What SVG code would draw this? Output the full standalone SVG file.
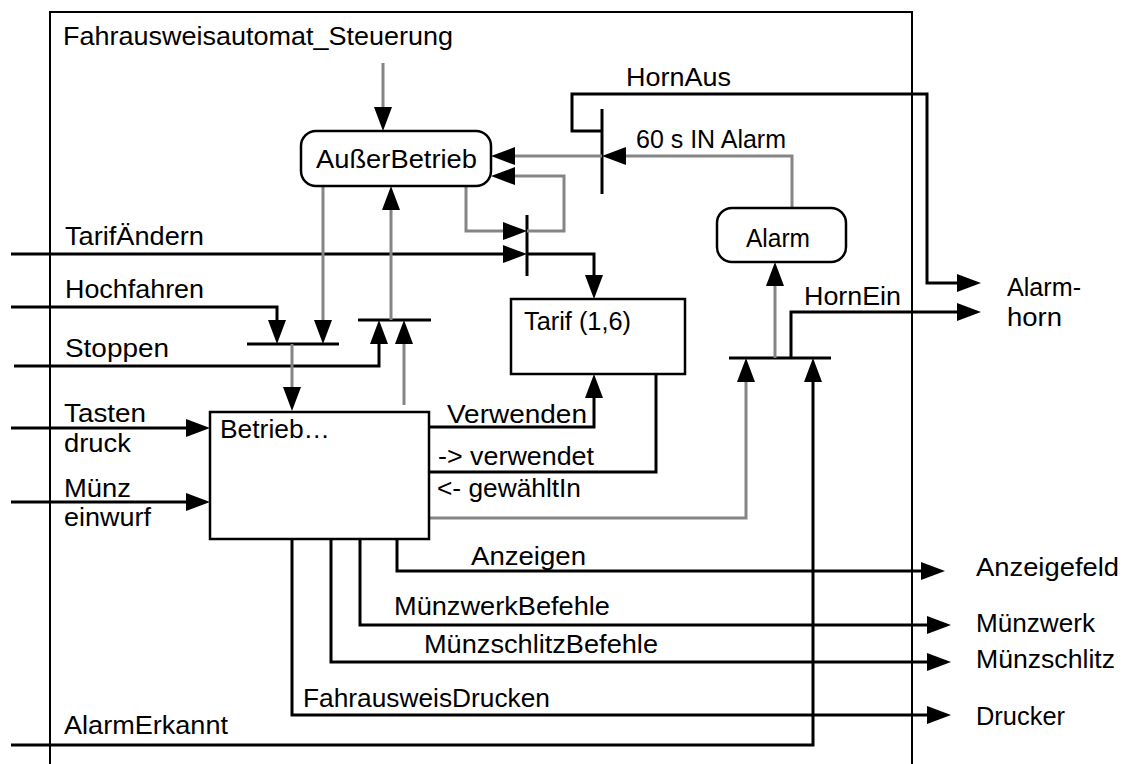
<svg xmlns="http://www.w3.org/2000/svg" width="1122" height="764" viewBox="0 0 1122 764">
<style>
text{font-family:"Liberation Sans",Arial,sans-serif;font-size:25px;fill:#000}
.k{fill:none;stroke:#000;stroke-width:3}
.g{fill:none;stroke:#858585;stroke-width:3}
.bar{fill:none;stroke:#000;stroke-width:3}
.box{fill:#fff;stroke:#000;stroke-width:2.5}
.frame{fill:none;stroke:#000;stroke-width:2}
</style>
<defs>
<marker id="ah" markerUnits="userSpaceOnUse" markerWidth="26" markerHeight="20" refX="0" refY="9" orient="auto" overflow="visible">
<path d="M0,0 L24,9 L0,18 z" fill="#000"/>
</marker>
</defs>
<rect width="1122" height="764" fill="#fff"/>
<g id="frame">
<path class="frame" d="M50,764 V12 H912 V764"/>
<text x="63" y="45" textLength="390" lengthAdjust="spacingAndGlyphs">Fahrausweisautomat_Steuerung</text>
</g>
<g id="connectors">
<path class="bar" d="M527,215 V276"/>
<path class="bar" d="M247,344 H339"/>
<path class="bar" d="M358,320 H431"/>
<path class="bar" d="M602,109 V194"/>
<path class="bar" d="M729,358 H831"/>
<path class="k" d="M11,254 H503" marker-end="url(#ah)"/>
<path class="k" d="M527,254 H594 V275" marker-end="url(#ah)"/>
<path class="k" d="M11,307 H277 V320" marker-end="url(#ah)"/>
<path class="k" d="M14,366 H379 V344" marker-end="url(#ah)"/>
<path class="k" d="M11,428 H186" marker-end="url(#ah)"/>
<path class="k" d="M11,502 H186" marker-end="url(#ah)"/>
<path class="k" d="M429,427 H594 V398" marker-end="url(#ah)"/>
<path class="k" d="M656,374 V472 H429"/>
<path class="k" d="M602,131 H572 V94 H927 V283 H957" marker-end="url(#ah)"/>
<path class="k" d="M791,358 V312 H957" marker-end="url(#ah)"/>
<path class="k" d="M11,745 H813 V382" marker-end="url(#ah)"/>
<path class="k" d="M397,539 V571 H921" marker-end="url(#ah)"/>
<path class="k" d="M360,539 V625 H927" marker-end="url(#ah)"/>
<path class="k" d="M331,539 V662 H927" marker-end="url(#ah)"/>
<path class="k" d="M292,539 V715 H927" marker-end="url(#ah)"/>
<path class="g" d="M383,63 V107" marker-end="url(#ah)"/>
<path class="g" d="M323,186 V320" marker-end="url(#ah)"/>
<path class="g" d="M391,320 V210" marker-end="url(#ah)"/>
<path class="g" d="M292,344 V387" marker-end="url(#ah)"/>
<path class="g" d="M404,405 V344" marker-end="url(#ah)"/>
<path class="g" d="M466,186 V231 H503" marker-end="url(#ah)"/>
<path class="g" d="M527,231 H564 V176 H515" marker-end="url(#ah)"/>
<path class="g" d="M792,208 V156 H626" marker-end="url(#ah)"/>
<path class="g" d="M602,156 H515" marker-end="url(#ah)"/>
<path class="g" d="M775,358 V286" marker-end="url(#ah)"/>
<path class="g" d="M429,518 H746 V382" marker-end="url(#ah)"/>
<text x="626" y="86" textLength="105" lengthAdjust="spacingAndGlyphs">HornAus</text>
<text x="636" y="148" textLength="150" lengthAdjust="spacingAndGlyphs">60 s IN Alarm</text>
<text x="65" y="245" textLength="139" lengthAdjust="spacingAndGlyphs">TarifÄndern</text>
<text x="65" y="298" textLength="139" lengthAdjust="spacingAndGlyphs">Hochfahren</text>
<text x="65" y="357" textLength="104" lengthAdjust="spacingAndGlyphs">Stoppen</text>
<text x="804" y="305" textLength="97" lengthAdjust="spacingAndGlyphs">HornEin</text>
<text x="1007" y="296" textLength="74" lengthAdjust="spacingAndGlyphs">Alarm-</text>
<text x="1007" y="326" textLength="55" lengthAdjust="spacingAndGlyphs">horn</text>
<text x="64" y="422" textLength="82" lengthAdjust="spacingAndGlyphs">Tasten</text>
<text x="64" y="452" textLength="67" lengthAdjust="spacingAndGlyphs">druck</text>
<text x="64" y="497" textLength="67" lengthAdjust="spacingAndGlyphs">Münz</text>
<text x="64" y="526" textLength="87" lengthAdjust="spacingAndGlyphs">einwurf</text>
<text x="447" y="423" textLength="140" lengthAdjust="spacingAndGlyphs">Verwenden</text>
<text x="438" y="465" textLength="156" lengthAdjust="spacingAndGlyphs">-&gt; verwendet</text>
<text x="437" y="497" textLength="144" lengthAdjust="spacingAndGlyphs">&lt;- gewähltIn</text>
<text x="471" y="565" textLength="115" lengthAdjust="spacingAndGlyphs">Anzeigen</text>
<text x="394" y="615" textLength="216" lengthAdjust="spacingAndGlyphs">MünzwerkBefehle</text>
<text x="424" y="653" textLength="234" lengthAdjust="spacingAndGlyphs">MünzschlitzBefehle</text>
<text x="303" y="707" textLength="247" lengthAdjust="spacingAndGlyphs">FahrausweisDrucken</text>
<text x="64" y="734" textLength="164" lengthAdjust="spacingAndGlyphs">AlarmErkannt</text>
<text x="976" y="576" textLength="143" lengthAdjust="spacingAndGlyphs">Anzeigefeld</text>
<text x="976" y="632" textLength="119" lengthAdjust="spacingAndGlyphs">Münzwerk</text>
<text x="976" y="668" textLength="139" lengthAdjust="spacingAndGlyphs">Münzschlitz</text>
<text x="976" y="725" textLength="89" lengthAdjust="spacingAndGlyphs">Drucker</text>
</g>
<g id="ausser-betrieb">
<rect class="box" x="301" y="131" width="190" height="55" rx="15"/>
<text x="316" y="168" textLength="161" lengthAdjust="spacingAndGlyphs">AußerBetrieb</text>
</g>
<g id="alarm">
<rect class="box" x="717" y="208" width="129" height="54" rx="15"/>
<text x="746" y="247" textLength="64" lengthAdjust="spacingAndGlyphs">Alarm</text>
</g>
<g id="tarif">
<rect class="box" x="511" y="299" width="174" height="75"/>
<text x="524" y="330" textLength="107" lengthAdjust="spacingAndGlyphs">Tarif (1,6)</text>
</g>
<g id="betrieb">
<rect class="box" x="210" y="412" width="219" height="127"/>
<text x="220" y="438" textLength="110" lengthAdjust="spacingAndGlyphs">Betrieb…</text>
</g>
</svg>
